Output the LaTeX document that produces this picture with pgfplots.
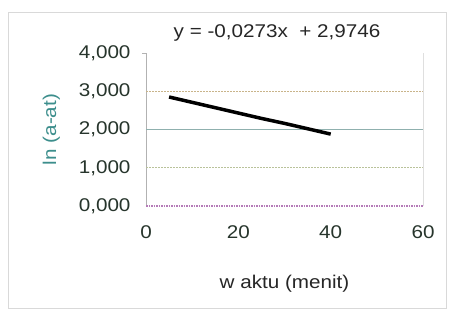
\documentclass[border=0pt]{standalone}
\usepackage{fontspec}
\setmainfont{Liberation Sans}[FakeStretch=1.12]
\usepackage{pgfplots}
\pgfplotsset{compat=1.18}
\definecolor{tickc}{HTML}{27352C}
\definecolor{ylab}{HTML}{3C8E8C}
\definecolor{g3}{HTML}{C9B48A}
\definecolor{g2}{HTML}{8FB0AE}
\definecolor{g1}{HTML}{B9C29A}
\definecolor{g0}{HTML}{B57BB8}
\begin{document}
\begin{tikzpicture}[x=1bp,y=1bp]
\path[use as bounding box, fill=white] (0,0) rectangle (451,318);
\draw[gray!30, line width=1bp] (8,10) rectangle (446,305);
\node[font=\fontsize{18.5}{22}\selectfont, text=black!85] at (277,285) {y = -0,0273x \ + 2,9746};
\begin{axis}[
  at={(146bp,112bp)}, anchor=south west,
  scale only axis, width=277bp, height=153bp,
  xmin=0, xmax=60, ymin=0, ymax=4,
  xtick={0,20,40,60}, ytick={0,1,2,3,4},
  axis line style={draw=none},
  tick style={draw=none},
  font=\fontsize{18.5}{22}\selectfont,
  ticklabel style={text=tickc},
  /pgf/number format/assume math mode=true,
  yticklabel style={/pgf/number format/fixed, /pgf/number format/fixed zerofill, /pgf/number format/precision=3, /pgf/number format/use comma, xshift=-12bp},
  xticklabel style={/pgf/number format/fixed, /pgf/number format/precision=0, yshift=-16bp},
  xlabel={w aktu (menit)},
  xlabel style={text=black!85, yshift=-30bp},
  ylabel={ln (a-at)},
  ylabel style={text=ylab, yshift=12bp},
  clip=false,
]
\draw[gray!60, line width=0.8bp] (axis cs:0,0) -- (axis cs:0,4);
\draw[gray!60, line width=0.8bp] (axis cs:0,4) -- ++(-4bp,0);
\draw[gray!25, line width=0.6bp] (axis cs:60,0) -- (axis cs:60,4);
\draw[g3, dash pattern=on 1.5bp off 1.5bp, line width=1.2bp] (axis cs:0,3) -- (axis cs:60,3);
\draw[g2, line width=1.1bp] (axis cs:0,2) -- (axis cs:60,2);
\draw[g1, dash pattern=on 1.5bp off 1.5bp, line width=1.2bp] (axis cs:0,1) -- (axis cs:60,1);
\draw[g0, dash pattern=on 1.5bp off 1bp, line width=1.3bp] (axis cs:0,0) -- (axis cs:60,0);
\addplot[black, line width=3.5bp, mark=none] coordinates {
(5,2.85) (10,2.71) (15,2.57) (20,2.43) (25,2.29) (30,2.16) (35,2.02) (40,1.88)
};
\end{axis}
\end{tikzpicture}
\end{document}
